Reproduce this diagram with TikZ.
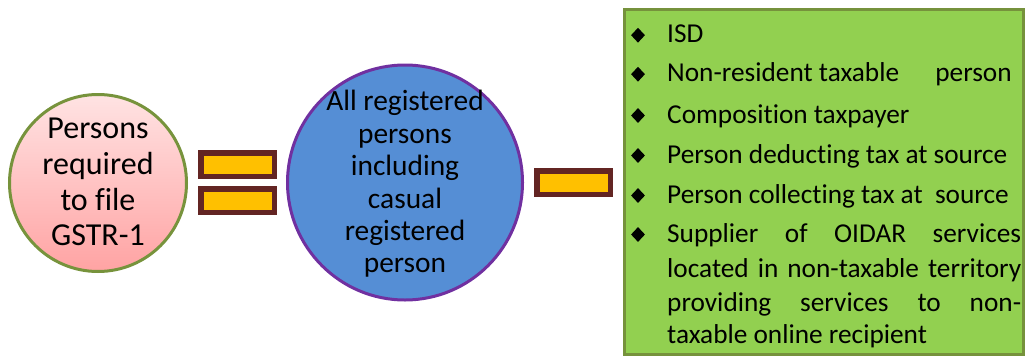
\documentclass[tikz,border=0pt]{standalone}
\usepackage{fontspec}
\setmainfont{Carlito}[Ligatures={NoCommon}]
\usetikzlibrary{shapes.geometric}
\definecolor{circleolive}{HTML}{77933C}
\definecolor{boxborder}{HTML}{76923C}
\definecolor{boxfill}{HTML}{92D050}
\definecolor{midblue}{HTML}{558ED5}
\definecolor{midpurple}{HTML}{7030A0}
\definecolor{barbrown}{HTML}{632523}
\definecolor{baryellow}{HTML}{FFC000}
\definecolor{pinktop}{HTML}{FFE3E3}
\definecolor{pinkbot}{HTML}{FFA3A3}
\tikzset{
  eqbar/.style={draw=barbrown, fill=baryellow, line width=5.5pt, minimum width=73.5pt, minimum height=23.5pt, inner sep=0pt},
  bulletmark/.style={diamond, fill=black, inner sep=0pt, minimum width=14pt, minimum height=15pt},
  itemtext/.style={anchor=base west, inner sep=0pt, font=\fontsize{27.3}{32}\selectfont},
}
\begin{document}
\begin{tikzpicture}[x=1pt,y=-1pt]
\useasboundingbox (0,0) rectangle (1025,356);
% left circle
\node (left) [circle, draw=circleolive, line width=3pt, top color=pinktop, bottom color=pinkbot, minimum size=177pt, inner sep=0pt] at (98,183) {};
\node (lefttext) [align=center, inner sep=0pt, font=\fontsize{32}{35.7}\selectfont] at (98,182) {Persons\\required\\to file\\GSTR-1};
% equals bars
\node (bara) [eqbar] at (237.5,164.5) {};
\node (barb) [eqbar] at (237.5,200.5) {};
% middle circle
\node (mid) [circle, draw=midpurple, line width=3pt, fill=midblue, minimum size=235pt, inner sep=0pt] at (405,182.5) {};
\node (midtext) [align=center, inner sep=0pt, font=\fontsize{29.4}{32.4}\selectfont] at (405,184) {All registered\\persons\\including\\casual\\registered\\person};
% dash bar
\node (barc) [eqbar] at (573.5,182.5) {};
% green box
\node (box) [rectangle, draw=boxborder, fill=boxfill, line width=3pt, minimum width=399pt, minimum height=345pt, inner sep=0pt] at (824,182) {};
% bullets
\foreach \b/\y in {1/42.7, 2/81.7, 3/123, 4/163, 5/203, 6/242} {
  \node (bul\b) [bulletmark] at (638,\y-7.5) {};
}
\node (t1) [itemtext] at (667,42.7) {ISD};
\node (t2) [itemtext] at (667,81.7) {Non-resident taxable\hspace{30pt} person};
\node (t3) [itemtext] at (667,123) {Composition taxpayer};
\node (t4) [itemtext] at (667,163) {Person deducting tax at source};
\node (t5) [itemtext] at (667,203) {Person collecting tax at\ \ source};
\node (t6a) [itemtext] at (667,242) {\makebox[354pt][s]{Supplier of OIDAR services}};
\node (t6b) [itemtext] at (667,277) {\makebox[354pt][s]{located in non-taxable territory}};
\node (t6c) [itemtext] at (667,311) {\makebox[354pt][s]{providing services to non-}};
\node (t6d) [itemtext] at (667,343) {taxable online recipient};
\end{tikzpicture}
\end{document}
